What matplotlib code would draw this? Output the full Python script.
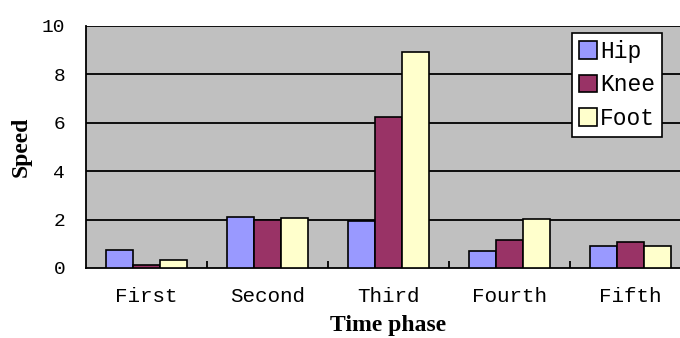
import numpy as np
import matplotlib.pyplot as plt

# values
phases = ['First', 'Second', 'Third', 'Fourth', 'Fifth']
hip = [0.76, 2.12, 1.95, 0.69, 0.90]
knee = [0.14, 1.98, 6.22, 1.14, 1.07]
foot = [0.31, 2.05, 8.93, 2.04, 0.90]
series = ['Hip', 'Knee', 'Foot']
colors = ['#9999FF', '#993366', '#FFFFCC']

mono = 'Liberation Mono'
serif = 'Liberation Serif'

fig = plt.figure(figsize=(6.8, 3.38), dpi=100)
# plot area runs past the right edge of the picture, as in the reference
ax = fig.add_axes([86 / 680, 70 / 338, 605 / 680, 242 / 338])
ax.set_facecolor('#C0C0C0')

x = np.arange(len(phases))
w = 0.223
for i, (vals, name, c) in enumerate(zip([hip, knee, foot], series, colors)):
    ax.bar(x + (i - 1) * w, vals, w, color=c, edgecolor='black',
           linewidth=1.2, label=name, zorder=3)

ax.set_xlim(-0.5, 4.5)
ax.set_ylim(0, 10)

# black horizontal gridlines
for yv in [2, 4, 6, 8, 10]:
    ax.axhline(yv, color='black', linewidth=1.3, zorder=1)

ax.set_yticks([0, 2, 4, 6, 8, 10])
ax.tick_params(axis='y', length=0, pad=15, labelsize=14)
for lab in ax.get_yticklabels():
    lab.set_fontfamily(mono)

ax.set_xticks(x)
ax.set_xticklabels(phases, fontfamily=mono, fontsize=15)
ax.tick_params(axis='x', which='major', length=0, pad=14)
ax.set_xticks(x[:-1] + 0.5, minor=True)
ax.tick_params(axis='x', which='minor', direction='in', length=5,
               width=1.3, color='black')

for s in ['top', 'right']:
    ax.spines[s].set_visible(False)
ax.spines['left'].set_linewidth(1.3)
ax.spines['bottom'].set_linewidth(1.3)

ax.set_xlabel('Time phase', fontfamily=serif, fontweight='bold',
              fontsize=17, labelpad=6)
ax.set_ylabel('Speed', fontfamily=serif, fontweight='bold',
              fontsize=17, labelpad=7)

leg = ax.legend(loc='upper left', bbox_to_anchor=(486 / 605, 0.97),
                prop={'family': mono, 'size': 16.5}, fancybox=False,
                framealpha=1, edgecolor='black', handlelength=0.8,
                handleheight=0.8, handletextpad=0.12, borderpad=0.3,
                labelspacing=0.45, borderaxespad=0)
leg.get_frame().set_linewidth(1.2)

fig.savefig('out.png', dpi=100)
